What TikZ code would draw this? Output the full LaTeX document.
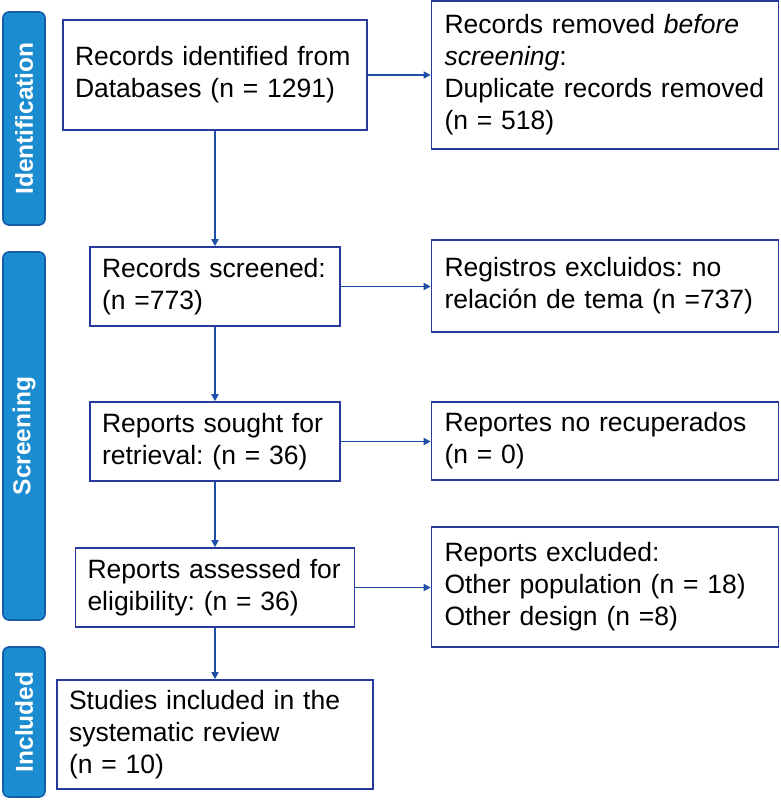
\documentclass[tikz,border=0pt]{standalone}
\usepackage{fontspec}
\setmainfont{Liberation Sans}
\usetikzlibrary{arrows.meta}
\frenchspacing
\definecolor{boxline}{RGB}{40,58,158}
\definecolor{arrowc}{RGB}{30,78,168}
\definecolor{barfill}{RGB}{28,140,208}
\definecolor{barline}{RGB}{22,92,172}
\begin{document}
\begin{tikzpicture}[x=1pt,y=-1pt,
  box/.style={draw=boxline, line width=1.6pt, fill=white, rectangle, inner xsep=12pt, inner ysep=4pt,
    align=left, font=\fontsize{26.5}{32}\selectfont\frenchspacing, anchor=center},
  phase/.style={draw=barline, line width=1.6pt, fill=barfill, rounded corners=6pt},
  phasetext/.style={text=white, font=\fontsize{24.5}{28}\selectfont\bfseries, rotate=90},
  conn/.style={draw=arrowc, line width=1.5pt, -{Triangle[length=7pt,width=7pt]}}]
\useasboundingbox (0,0) rectangle (781,800);
% phase bars
\draw[phase] (3,12) rectangle (45,225);
\node[phasetext] (pid) at (24,118.5) {Identification};
\draw[phase] (3,252) rectangle (45,620);
\node[phasetext] (psc) at (24,436) {Screening};
\draw[phase] (3,647) rectangle (45,797);
\node[phasetext] (pin) at (24,722) {Included};
% boxes
\node[box, minimum width=304pt, minimum height=110pt, text width=280pt] (ident) at (215,75)
  {Records identified from\\Databases (n = 1291)};
\node[box, minimum width=347pt, minimum height=148pt, text width=321pt, inner xsep=13pt] (removed) at (605,75)
  {Records removed \textit{before}\\\textit{screening}:\\Duplicate records removed\\(n = 518)};
\node[box, minimum width=250pt, minimum height=79pt, text width=226pt] (screened) at (215,286.5)
  {Records screened:\\(n =773)};
\node[box, minimum width=347pt, minimum height=92pt, text width=321pt, inner xsep=13pt] (registros) at (605,286)
  {Registros excluidos: no\\relación de tema (n =737)};
\node[box, minimum width=250pt, minimum height=79pt, text width=226pt] (sought) at (215,441.5)
  {Reports sought for\\retrieval: (n = 36)};
\node[box, minimum width=347pt, minimum height=78pt, text width=321pt, inner xsep=13pt] (norec) at (605,441)
  {Reportes no recuperados\\(n = 0)};
\node[box, minimum width=279pt, minimum height=79pt, text width=255pt] (assessed) at (215,587.5)
  {Reports assessed for\\eligibility: (n = 36)};
\node[box, minimum width=347pt, minimum height=120pt, text width=321pt, inner xsep=13pt] (excluded) at (605,587)
  {Reports excluded:\\Other population (n = 18)\\Other design (n =8)};
\node[box, minimum width=316pt, minimum height=109pt, text width=292pt] (studies) at (215,734.5)
  {Studies included in the\\systematic review\\(n = 10)};
% connectors
\draw[conn] (ident.south) -- (screened.north);
\draw[conn] (screened.south) -- (sought.north);
\draw[conn] (sought.south) -- (assessed.north);
\draw[conn] (assessed.south) -- (studies.north);
\draw[conn] (ident.east) -- (ident.east -| removed.west);
\draw[conn] (screened.east) -- (screened.east -| registros.west);
\draw[conn] (sought.east) -- (sought.east -| norec.west);
\draw[conn] (assessed.east) -- (assessed.east -| excluded.west);
\end{tikzpicture}
\end{document}
